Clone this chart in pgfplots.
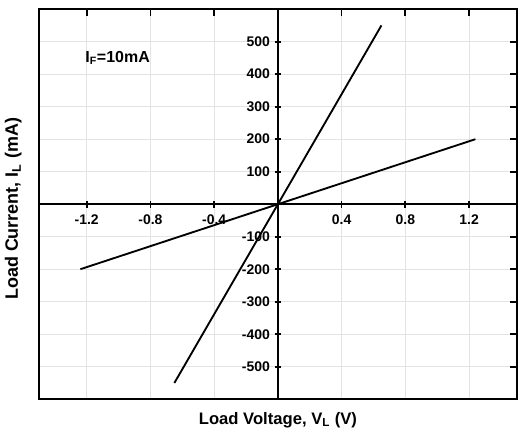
\documentclass[border=0pt]{standalone}
\usepackage{fontspec}
\setmainfont{Liberation Sans}
\usepackage{pgfplots}
\pgfplotsset{compat=1.18}
\definecolor{gridgray}{HTML}{E3E3E3}

\begin{document}
\begin{tikzpicture}
\pgfplotsset{
  common/.style={
    scale only axis,
    width=359.25pt, height=293.25pt,
    xmin=-1.5, xmax=1.5, ymin=-600, ymax=600,
    tick align=inside,
    major tick length=5pt,
    tick style={black, line width=1.3pt},
  }
}
% frame, grid and the ticks on the top and right edges
\begin{axis}[common,
  axis lines=box,
  axis line style={line width=1.7pt},
  xtick={-1.2,-0.8,-0.4,0,0.4,0.8,1.2},
  ytick={-500,-400,-300,-200,-100,0,100,200,300,400,500},
  xticklabels={}, yticklabels={},
  xtick pos=right, ytick pos=right,
  grid=major,
  grid style={gridgray, line width=0.75pt},
  xlabel={Load Voltage, V\textsubscript{L} (V)},
  ylabel={Load Current, I\textsubscript{L} (mA)},
  label style={inner sep=0pt},
  xlabel style={font=\fontsize{12.5}{14}\selectfont\bfseries,
    at={(axis description cs:0.5,-0.033)}, anchor=north},
  ylabel style={font=\fontsize{13.5}{15}\selectfont\bfseries,
    at={(axis description cs:-0.0355,0.488)}, anchor=south},
]
\end{axis}
% centre axes, tick labels and the data
\begin{axis}[common,
  axis lines=middle,
  axis line style={-, line width=1.4pt},
  xtick={-1.2,-0.8,-0.4,0.4,0.8,1.2},
  ytick={-500,-400,-300,-200,-100,100,200,300,400,500},
  ticklabel style={font=\fontsize{10.5}{12}\selectfont\bfseries},
  /pgf/number format/assume math mode=true,
  xticklabel style={anchor=north, yshift=-2pt},
]
\addplot[black, line width=1.4pt] coordinates {(-0.65,-550) (0.65,550)};
\addplot[black, line width=1.4pt] coordinates {(-1.24,-200) (1.24,200)};
\node[anchor=base west, inner sep=0pt, font=\fontsize{12}{14}\selectfont\bfseries]
  at (axis cs:-1.21,437) {I\textsubscript{F}=10mA};
\end{axis}
\path (-29.25pt,-27pt) (365.25pt,297pt);
\end{tikzpicture}
\end{document}
